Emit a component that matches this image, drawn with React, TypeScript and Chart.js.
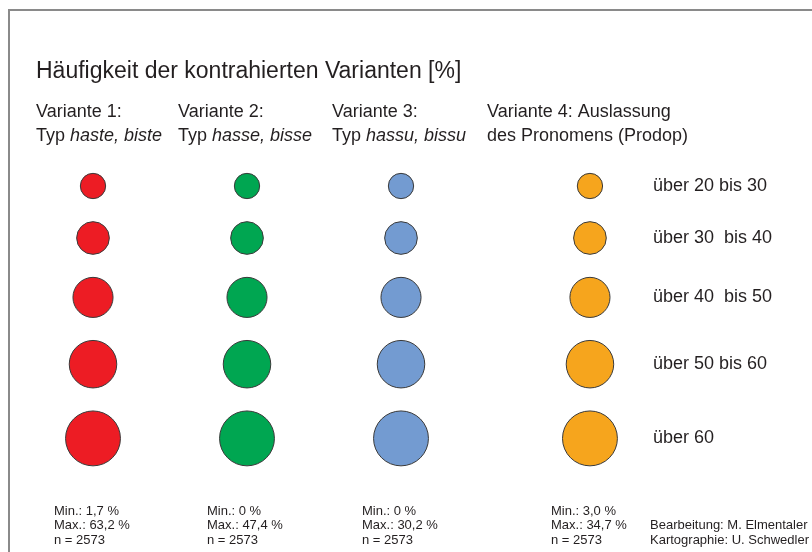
import React, { useEffect, useRef } from "react";
import { Chart, registerables } from "chart.js";

Chart.register(...registerables);

// ---- data ----
const variants = ["Variante 1", "Variante 2", "Variante 3", "Variante 4"];
const headerLine1 = ["Variante 1:", "Variante 2:", "Variante 3:", "Variante 4: Auslassung"];
const headerLine2Prefix = ["Typ ", "Typ ", "Typ ", "des Pronomens (Prodop)"];
const headerLine2Italic = ["haste, biste", "hasse, bisse", "hassu, bissu", ""];
const classLabels = ["über 20 bis 30", "über 30  bis 40", "über 40  bis 50", "über 50 bis 60", "über 60"];
const classValues = [25, 35, 45, 55, 65]; // representative share (%) of each class
const minValues = ["1,7", "0", "0", "3,0"];
const maxValues = ["63,2", "47,4", "30,2", "34,7"];
const nValues = [2573, 2573, 2573, 2573];
const title = "Häufigkeit der kontrahierten Varianten [%]";
const credits = ["Bearbeitung: M. Elmentaler", "Kartographie: U. Schwedler"];

// ---- styles / layout ----
const COLORS = ["#ED1C24", "#00A651", "#739BD1", "#F6A51D"];
const FONT = '"Liberation Sans", Arial, Helvetica, sans-serif';
const TEXT = "#231F20";
const W = 812;
const H = 552;
const radiusFor = (v: number) => 3.4 + 0.37 * v;
const FIRST_ROW_Y = 186;
const ROW_GAP = 23;
const LAST_COLUMN_SHIFT = 0.227;
const HEADER_X = [36, 178, 332, 487];
const STATS_X = [54, 207, 362, 551];

function rowPositions(): number[] {
  const ys: number[] = [];
  classValues.forEach((v, k) => {
    if (k === 0) ys.push(FIRST_ROW_Y);
    else ys.push(ys[k - 1] + radiusFor(classValues[k - 1]) + radiusFor(v) + ROW_GAP);
  });
  return ys;
}

const textPlugin = {
  id: "legendTexts",
  beforeDraw(chart: any) {
    const ctx = chart.ctx;
    ctx.save();
    ctx.fillStyle = "#ffffff";
    ctx.fillRect(0, 0, W, H);
    ctx.strokeStyle = "#8a8a8a";
    ctx.lineWidth = 2;
    ctx.strokeRect(9, 10, W + 40, H + 40);
    ctx.restore();
  },
  afterDraw(chart: any) {
    const ctx = chart.ctx;
    const xs = chart.scales.x;
    const ys = chart.scales.y;
    ctx.save();
    ctx.fillStyle = TEXT;
    ctx.textBaseline = "middle";
    ctx.textAlign = "left";

    ctx.font = `23px ${FONT}`;
    ctx.fillText(title, 36, 72);

    variants.forEach((_, i) => {
      const x = HEADER_X[i];
      ctx.font = `18px ${FONT}`;
      ctx.fillText(headerLine1[i], x, 112);
      ctx.fillText(headerLine2Prefix[i], x, 136);
      const w = ctx.measureText(headerLine2Prefix[i]).width;
      if (headerLine2Italic[i]) {
        ctx.font = `italic 18px ${FONT}`;
        ctx.fillText(headerLine2Italic[i], x + w, 136);
      }
    });

    // class labels next to the last column
    ctx.font = `18px ${FONT}`;
    const lastX = xs.getPixelForValue(variants.length - 1 + LAST_COLUMN_SHIFT);
    const rows = rowPositions();
    classLabels.forEach((lab, k) => {
      ctx.fillText(lab, lastX + 63, ys.getPixelForValue(rows[k]));
    });

    // stats
    ctx.font = `13px ${FONT}`;
    variants.forEach((_, i) => {
      const x = STATS_X[i];
      ctx.fillText(`Min.: ${minValues[i]} %`, x, 511);
      ctx.fillText(`Max.: ${maxValues[i]} %`, x, 525);
      ctx.fillText(`n = ${nValues[i]}`, x, 540);
    });
    ctx.fillText(credits[0], 650, 525);
    ctx.fillText(credits[1], 650, 540);
    ctx.restore();
  },
};

export default function App() {
  const ref = useRef<HTMLCanvasElement | null>(null);
  useEffect(() => {
    if (!ref.current) return;
    const rows = rowPositions();
    const datasets = variants.map((name, i) => ({
      label: name,
      data: classValues.map((v, k) => ({
        x: i + (i === variants.length - 1 ? LAST_COLUMN_SHIFT : 0),
        y: rows[k],
        r: radiusFor(v),
      })),
      backgroundColor: COLORS[i],
      borderColor: "#3a3a3a",
      borderWidth: 1,
      clip: false as any,
    }));
    const chart = new Chart(ref.current, {
      type: "bubble",
      data: { datasets },
      options: {
        animation: false,
        responsive: false,
        maintainAspectRatio: false,
        layout: { padding: 0, autoPadding: false },
        events: [],
        scales: {
          x: { type: "linear", display: false, min: -93 / 154, max: (W - 93) / 154 },
          y: { type: "linear", display: false, min: 0, max: H, reverse: true },
        },
        plugins: { legend: { display: false }, tooltip: { enabled: false }, title: { display: false } },
      },
      plugins: [textPlugin],
    });
    return () => chart.destroy();
  }, []);
  return (
    <div style={{ position: "absolute", left: 0, top: 0, width: W, height: H, overflow: "hidden" }}>
      <canvas ref={ref} width={W} height={H} style={{ display: "block", width: W, height: H }} />
    </div>
  );
}
